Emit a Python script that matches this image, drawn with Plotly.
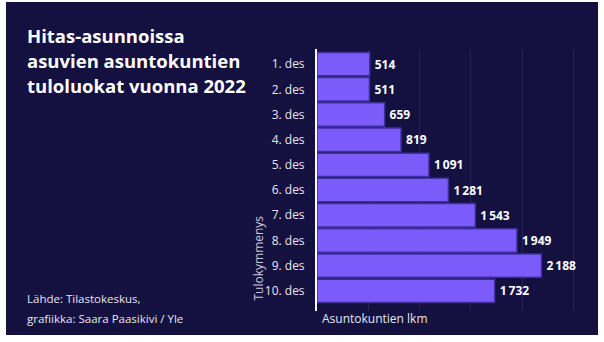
import plotly.graph_objects as go

categories = ["1. des", "2. des", "3. des", "4. des", "5. des",
              "6. des", "7. des", "8. des", "9. des", "10. des"]
values = [514, 511, 659, 819, 1091, 1281, 1543, 1949, 2188, 1732]

title_lines = ["Hitas-asunnoissa", "asuvien asuntokuntien", "tuloluokat vuonna 2022"]
source_lines = ["Lähde: Tilastokeskus,", "grafiikka: Saara Paasikivi / Yle"]
x_title = "Asuntokuntien lkm"
y_title = "Tulokymmenys"

BG = "#141040"
BAR = "#7b5cfb"
W, H = 604, 342
L, R, T, B = 317, 10, 49, 31
pw = W - L - R
ph = H - T - B

def px_x(px):
    return (px - L) / pw

def px_y(py):
    return (H - B - py) / ph

fig = go.Figure(go.Bar(
    x=values, y=categories, orientation="h",
    marker=dict(color=BAR, line=dict(color="#3e2f9e", width=1.5)),
    text=values, texttemplate="\u2009%{x:,}", textposition="outside",
    textfont=dict(color="white", size=12, family="Open Sans", weight="bold"),
    cliponaxis=False, width=0.93,
))

fig.update_layout(
    width=W, height=H,
    margin=dict(l=L, r=R, t=T, b=B, pad=0),
    paper_bgcolor="white", plot_bgcolor="rgba(0,0,0,0)",
    separators=",\u2009",
    showlegend=False,
    font=dict(family="Open Sans", color="#e6e6ef"),
    xaxis=dict(range=[0, 2700], tickvals=[500, 1000, 1500, 2000, 2500],
               showticklabels=False, showgrid=True, gridcolor="#26225a", gridwidth=1,
               zeroline=False, showline=False, fixedrange=True),
    yaxis=dict(range=[9.8, -0.6], showgrid=False, zeroline=False,
               showline=True, linecolor="white", linewidth=2,
               ticks="", ticklabelstandoff=8,
               tickfont=dict(size=12, color="#e6e6ef", family="Open Sans")),
    shapes=[dict(type="rect", xref="paper", yref="paper", layer="below",
                 x0=px_x(6), x1=px_x(598), y0=px_y(335), y1=px_y(2),
                 fillcolor=BG, line=dict(width=0))],
)

ann = []
for i, line in enumerate(title_lines):
    ann.append(dict(text=line, xref="paper", yref="paper",
                    x=px_x(25), y=px_y(36 + 24.5 * i), xanchor="left", yanchor="middle",
                    align="left", showarrow=False,
                    font=dict(size=18.5, color="white", family="Open Sans", weight="bold")))
for i, line in enumerate(source_lines):
    ann.append(dict(text=line, xref="paper", yref="paper",
                    x=px_x(25), y=px_y(298 + 20 * i), xanchor="left", yanchor="middle",
                    align="left", showarrow=False,
                    font=dict(size=11.5, color="#e6e6ef", family="Open Sans")))
ann.append(dict(text=x_title, xref="paper", yref="paper",
                x=px_x(320), y=px_y(318), xanchor="left", yanchor="middle",
                showarrow=False,
                font=dict(size=12, color="#e6e6ef", family="Open Sans")))
ann.append(dict(text=y_title, xref="paper", yref="paper", textangle=-90,
                x=px_x(258), y=px_y(303), xanchor="center", yanchor="bottom",
                showarrow=False,
                font=dict(size=12, color="#c9c8d8", family="Open Sans")))
fig.update_layout(annotations=ann)

fig.write_html("out.html")
